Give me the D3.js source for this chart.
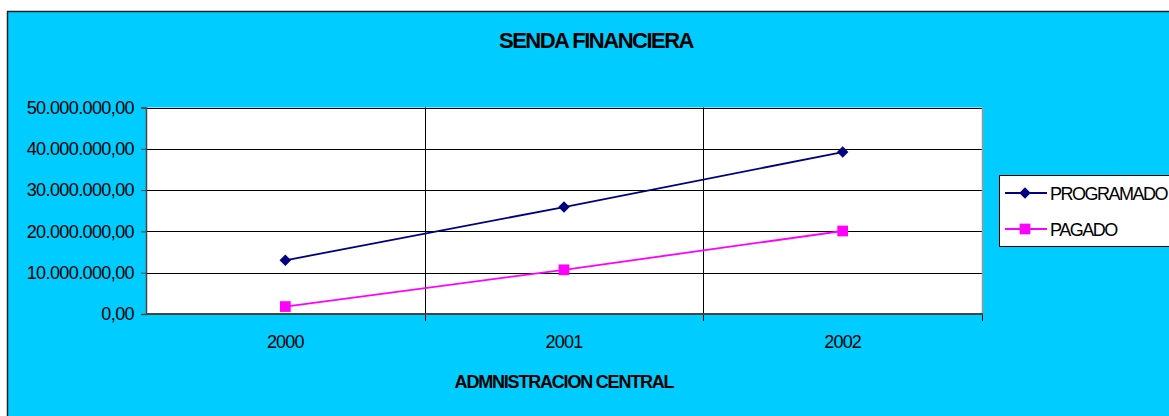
<!DOCTYPE html>
<html>
<head>
<meta charset="utf-8">
<script src="https://cdn.jsdelivr.net/npm/d3@7"></script>
<style>
  body { margin: 0; background: #fff; }
  svg { display: block; font-family: "Liberation Sans", Arial, sans-serif; }
</style>
</head>
<body>
<svg width="1169" height="416"></svg>
<script>
const width = 1169;
const height = 416;

const years = ["2000", "2001", "2002"];
const programado = [13000000, 25900000, 39200000];
const pagado = [1800000, 10700000, 20100000];
const yTicks = [0, 10000000, 20000000, 30000000, 40000000, 50000000];
const seriesNames = ["PROGRAMADO", "PAGADO"];

const plot = { left: 146, right: 982, top: 107.5, bottom: 314 };

const esLocale = d3.formatLocale({ decimal: ",", thousands: ".", grouping: [3], currency: ["", ""] });
const fmt = esLocale.format(",.2f");

const svg = d3.select('svg');

// chart background
svg.append('rect')
    .attr('x', 7.5)
    .attr('y', 11.5)
    .attr('width', 1200)
    .attr('height', 500)
    .attr('fill', '#00CCFF')
    .attr('stroke', '#222')
    .attr('stroke-width', 1.5)

const xScale = d3.scaleBand()
                    .domain(years)
                    .range([plot.left, plot.right])

const yScale = d3.scaleLinear()
                    .domain([0, 50000000])
                    .range([plot.bottom, plot.top])

// plot area
svg.append('rect')
    .attr('x', plot.left)
    .attr('y', plot.top)
    .attr('width', plot.right - plot.left)
    .attr('height', plot.bottom - plot.top)
    .attr('fill', '#fff')

// horizontal gridlines
svg.append('g')
    .selectAll('line')
    .data(yTicks.slice(1))
    .enter()
    .append('line')
        .attr('x1', plot.left)
        .attr('x2', plot.right)
        .attr('y1', d => Math.round(yScale(d)) + 0.5)
        .attr('y2', d => Math.round(yScale(d)) + 0.5)
        .attr('stroke', '#000')

// vertical gridlines at category boundaries
const bounds = years.slice(1).map(d => xScale(d))
svg.append('g')
    .selectAll('line')
    .data(bounds)
    .enter()
    .append('line')
        .attr('x1', d => Math.round(d) + 0.5)
        .attr('x2', d => Math.round(d) + 0.5)
        .attr('y1', plot.top)
        .attr('y2', plot.bottom + 7)
        .attr('stroke', '#000')

// right border of plot
svg.append('line')
    .attr('x1', plot.right + 0.5)
    .attr('x2', plot.right + 0.5)
    .attr('y1', plot.top)
    .attr('y2', plot.bottom)
    .attr('stroke', '#999')
    .attr('stroke-width', 1.5)
svg.append('line')
    .attr('x1', plot.right + 0.5)
    .attr('x2', plot.right + 0.5)
    .attr('y1', plot.bottom)
    .attr('y2', plot.bottom + 7)
    .attr('stroke', '#000')

// y axis
const yAxis = d3.axisLeft(yScale)
                    .tickValues(yTicks)
                    .tickSize(5)
                    .tickPadding(7)
                    .tickFormat(fmt)

const gy = svg.append('g')
    .attr('transform', 'translate(' + plot.left + ',0)')
    .call(yAxis)
gy.select('.domain').attr('stroke', '#444').attr('stroke-width', 1.5)
gy.selectAll('.tick line').attr('stroke', '#444')
gy.selectAll('.tick text')
    .attr('font-size', '18px')
    .attr('letter-spacing', '-0.6px')
    .attr('fill', '#000')
    .attr('font-family', '"Liberation Sans", Arial, sans-serif')

// x axis line
svg.append('line')
    .attr('x1', plot.left)
    .attr('x2', plot.right + 1)
    .attr('y1', plot.bottom)
    .attr('y2', plot.bottom)
    .attr('stroke', '#444')
    .attr('stroke-width', 2)

svg.append('g')
    .selectAll('text')
    .data(years)
    .enter()
    .append('text')
        .text(d => d)
        .attr('x', d => xScale(d) + xScale.bandwidth() / 2)
        .attr('y', 348)
        .attr('text-anchor', 'middle')
        .attr('font-size', '18px')
        .attr('letter-spacing', '-0.8px')

// lines and markers
const series = [
    { name: seriesNames[0], values: programado, color: '#000080', shape: d3.symbolSquare, size: 66, rotate: 45 },
    { name: seriesNames[1], values: pagado, color: '#FF00FF', shape: d3.symbolSquare, size: 115, rotate: 0 }
]

const line = d3.line()
                .x((d, i) => xScale(years[i]) + xScale.bandwidth() / 2)
                .y(d => yScale(d))

series.forEach(s => {
    svg.append('path')
        .attr('d', line(s.values))
        .attr('fill', 'none')
        .attr('stroke', s.color)
        .attr('stroke-width', 1.8)

    svg.append('g')
        .selectAll('path')
        .data(s.values)
        .enter()
        .append('path')
            .attr('d', d3.symbol().type(s.shape).size(s.size))
            .attr('transform', (d, i) => 'translate(' + (xScale(years[i]) + xScale.bandwidth() / 2) + ',' + yScale(d) + ') rotate(' + s.rotate + ')')
            .attr('fill', s.color)
})

// titles
svg.append('text')
    .text('SENDA FINANCIERA')
    .attr('x', 596)
    .attr('y', 48)
    .attr('text-anchor', 'middle')
    .attr('font-size', '22px')
    .attr('font-weight', 'bold')
    .attr('letter-spacing', '-1.5px')

svg.append('text')
    .text('ADMNISTRACION CENTRAL')
    .attr('x', 564)
    .attr('y', 388)
    .attr('text-anchor', 'middle')
    .attr('font-size', '18px')
    .attr('font-weight', 'bold')
    .attr('letter-spacing', '-1.2px')

// legend
const legend = svg.append('g')
legend.append('rect')
    .attr('x', 999.5)
    .attr('y', 175.5)
    .attr('width', 200)
    .attr('height', 71)
    .attr('fill', '#fff')
    .attr('stroke', '#000')

const items = legend.selectAll('.item')
    .data(series)
    .enter()
    .append('g')
        .classed('item', true)
        .attr('transform', (d, i) => 'translate(0,' + (193 + i * 36) + ')')

items.append('line')
    .attr('x1', 1005)
    .attr('x2', 1047)
    .attr('stroke', d => d.color)
    .attr('stroke-width', 1.8)
items.append('path')
    .attr('d', d => d3.symbol().type(d.shape).size(d.size)())
    .attr('transform', d => 'translate(1025,0) rotate(' + d.rotate + ')')
    .attr('fill', d => d.color)
items.append('text')
    .text(d => d.name)
    .attr('x', 1050)
    .attr('y', 6.5)
    .attr('font-size', '18px')
    .attr('letter-spacing', '-1.5px')
</script>
</body>
</html>
